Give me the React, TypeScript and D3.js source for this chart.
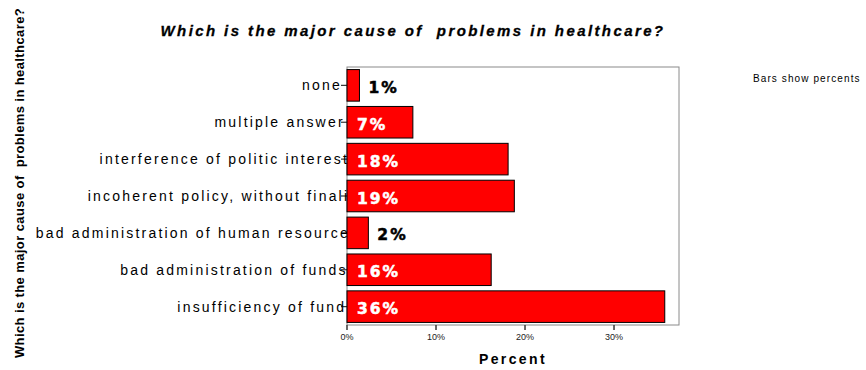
import React from 'react';
import * as d3 from 'd3';

const categories = [
  'none',
  'multiple answer',
  'interference of politic interest',
  'incoherent policy, without finali',
  'bad administration of human resource',
  'bad administration of funds',
  'insufficiency of fund',
];
const percents = [1.4, 7.4, 18.1, 18.8, 2.4, 16.2, 35.7];
const xTicks = [0, 10, 20, 30];
const chartTitle = 'Which is the major cause of  problems in healthcare?';
const yTitle = 'Which is the major cause of  problems in healthcare?';
const xTitle = 'Percent';
const note = 'Bars show percents';

export default function App() {
  const W = 866;
  const H = 370;
  const plot = { left: 347, right: 679, top: 67, bottom: 325 };
  const x = d3.scaleLinear().domain([0, 37.3]).range([plot.left, plot.right]);
  const y = d3
    .scaleBand<string>()
    .domain(categories)
    .range([plot.top, plot.bottom])
    .paddingInner(0.144)
    .paddingOuter(0.07);
  const fmt = d3.format('.0f');
  const labelFont = "'Liberation Sans', Arial, Helvetica, sans-serif";
  const valueFont = "'DejaVu Sans', sans-serif";

  return (
    <svg
      width={W}
      height={H}
      style={{ position: 'absolute', left: 0, top: 0, display: 'block', background: '#fff' }}
    >
      <rect x={0} y={0} width={W} height={H} fill="#fff" />
      {/* title */}
      <text
        x={413}
        y={36}
        textAnchor="middle"
        fontFamily={labelFont}
        fontWeight="bold"
        fontStyle="italic"
        fontSize={15}
        letterSpacing={2.4}
        stroke="#000"
        strokeWidth={0.3}
        style={{ whiteSpace: 'pre' }}
      >
        {chartTitle}
      </text>
      {/* plot frame */}
      <rect
        x={plot.left}
        y={plot.top}
        width={plot.right - plot.left}
        height={plot.bottom - plot.top}
        fill="#fff"
        stroke="#8a8a8a"
        strokeWidth={1}
      />
      {/* y ticks */}
      {categories.map((c) => (
        <line
          key={'yt' + c}
          x1={plot.left - 6}
          x2={plot.left}
          y1={(y(c) ?? 0) + y.bandwidth() / 2}
          y2={(y(c) ?? 0) + y.bandwidth() / 2}
          stroke="#333"
          strokeWidth={1.2}
        />
      ))}
      {/* category labels */}
      {categories.map((c) => (
        <text
          key={'yl' + c}
          x={341 + 0.25 * c.length}
          y={(y(c) ?? 0) + y.bandwidth() / 2 + 5}
          textAnchor="end"
          fontFamily={labelFont}
          fontSize={14}
          letterSpacing={2.2}
          fill="#000"
        >
          {c}
        </text>
      ))}
      {/* bars */}
      {categories.map((c, i) => (
        <rect
          key={'b' + c}
          x={x(0)}
          y={y(c)}
          width={x(percents[i]) - x(0)}
          height={y.bandwidth()}
          fill="#ff0000"
          stroke="#000"
          strokeWidth={1}
        />
      ))}
      {/* value labels */}
      {categories.map((c, i) => {
        const w = x(percents[i]) - x(0);
        const inside = w > 30;
        const col = inside ? '#fff' : '#000';
        return (
          <text
            key={'v' + c}
            x={inside ? x(0) + 10 : x(percents[i]) + 9}
            y={(y(c) ?? 0) + y.bandwidth() / 2 + 7.5}
            fontFamily={valueFont}
            fontWeight="bold"
            fontSize={15.5}
            letterSpacing={2}
            fill={col}
            stroke={col}
            strokeWidth={0.5}
          >
            {fmt(percents[i]) + '%'}
          </text>
        );
      })}
      {/* x ticks */}
      {xTicks.map((t) => (
        <g key={'xt' + t}>
          <line
            x1={x(t)}
            x2={x(t)}
            y1={plot.bottom}
            y2={plot.bottom + 5}
            stroke="#444"
            strokeWidth={1.6}
          />
          <text
            x={x(t)}
            y={340}
            textAnchor="middle"
            fontFamily={labelFont}
            fontSize={9}
            fill="#222"
          >
            {t + '%'}
          </text>
        </g>
      ))}
      {/* x title */}
      <text
        x={(plot.left + plot.right) / 2}
        y={364}
        textAnchor="middle"
        fontFamily={labelFont}
        fontWeight="bold"
        fontSize={14}
        letterSpacing={2.4}
      >
        {xTitle}
      </text>
      {/* y title */}
      <text
        transform="translate(24,183) rotate(-90)"
        textAnchor="middle"
        fontFamily={labelFont}
        fontWeight="bold"
        fontSize={13}
        letterSpacing={0.4}
        style={{ whiteSpace: 'pre' }}
      >
        {yTitle}
      </text>
      {/* note */}
      <text
        x={753}
        y={82}
        fontFamily={labelFont}
        fontSize={10}
        letterSpacing={1.1}
      >
        {note}
      </text>
    </svg>
  );
}
